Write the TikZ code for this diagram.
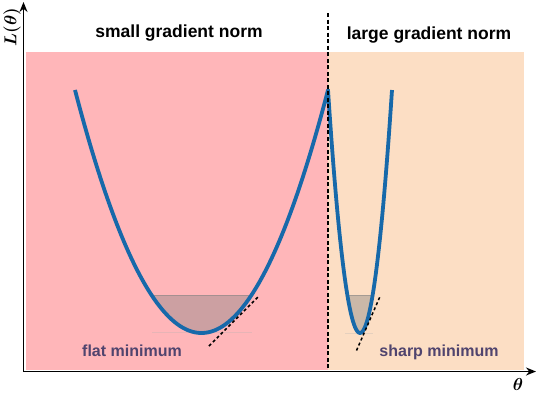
\documentclass[tikz,border=0pt]{standalone}
\usepackage{fontspec}
\setsansfont{Liberation Sans}
\usepackage{amsmath}
\usetikzlibrary{arrows.meta}
\definecolor{flatpink}{RGB}{255,182,185}
\definecolor{sharppeach}{RGB}{252,222,196}
\definecolor{curveblue}{RGB}{23,105,170}
\definecolor{minpurple}{RGB}{80,68,110}

\begin{document}
\begin{tikzpicture}[x=1pt, y=-1pt,
 heading/.style={font=\sffamily\bfseries\fontsize{17.5}{20}\selectfont, text=black, anchor=base},
 minlabel/.style={font=\sffamily\bfseries\fontsize{16}{19}\selectfont, text=minpurple, anchor=base},
 axislabel/.style={font=\boldmath\fontsize{16}{19}\selectfont, inner sep=1pt},
 basin/.style={fill=black!50, fill opacity=0.4},
 tangent/.style={black, line width=1.5pt, dash pattern=on 3pt off 2.5pt}]
 \useasboundingbox (0,0) rectangle (538,392);

 % regions
 \fill[flatpink] (26,52) rectangle (328,370);
 \fill[sharppeach] (328,52) rectangle (524,370);

 % basins below the level line
 \fill[basin] (151.5,295) -- plot[domain=151.5:251.5, samples=40] (\x, {333-1.5186*((\x-201.5)/10)^2}) -- cycle;
 \fill[basin] (347.35,295) -- plot[domain=347.35:372.65, samples=30] (\x, {333-0.2373*(\x-360)^2}) -- cycle;
 \draw[black!50, opacity=0.5, line width=0.8pt] (151.5,295) -- (251.5,295);
 \draw[black!50, opacity=0.5, line width=0.8pt] (347.35,295) -- (372.65,295);
 \draw[black!30, opacity=0.3, line width=0.6pt] (152,332) -- (252,332);
 \draw[black!30, opacity=0.3, line width=0.6pt] (345,333) -- (373,333);

 % loss curve
 \draw[curveblue, line width=3.8pt, line join=round] plot[domain=75:328, samples=100] (\x, {333-1.5186*((\x-201.5)/10)^2})
   -- plot[domain=328:392, samples=60] (\x, {333-0.2373*(\x-360)^2});

 % tangents
 \draw[tangent] (209,346) -- (258.5,296.5);
 \draw[tangent] (356.5,350.5) -- (380,296.5);

 % separator and axes
 \draw[black, line width=1.3pt, dash pattern=on 4pt off 2.5pt] (328,13) -- (328,370);
 \draw[-{Stealth[length=10pt, width=8pt]}, line width=1.6pt] (23.5,371.5) -- (23.5,2);
 \draw[-{Stealth[length=10pt, width=8pt]}, line width=1.6pt] (23.5,371.5) -- (536,371.5);

 % labels
 \node[heading] (smallnorm) at (179,37.5) {small gradient norm};
 \node[heading] (largenorm) at (429,39.5) {large gradient norm};
 \node[minlabel] (flatmin) at (132,356.7) {flat minimum};
 \node[minlabel] (sharpmin) at (439,356.7) {sharp minimum};
 \node[axislabel, rotate=90] (lossaxis) at (12,27) {$L(\theta)$};
 \node[axislabel] (thetaaxis) at (518,384) {$\theta$};
\end{tikzpicture}
\end{document}
